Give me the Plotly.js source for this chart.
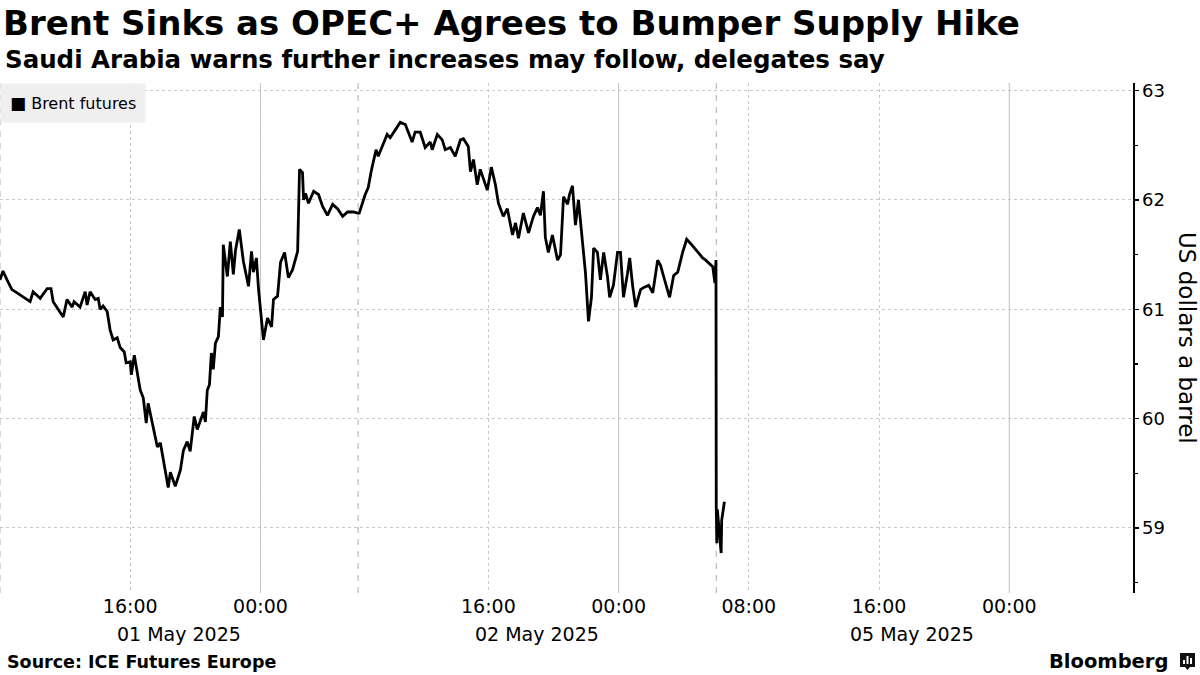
<!DOCTYPE html>
<html>
<head>
<meta charset="utf-8">
<script src="https://cdn.plot.ly/plotly-3.0.1.min.js"></script>
<style>html,body{margin:0;padding:0;background:#fff;}#chart{width:1200px;height:675px;}</style>
</head>
<body>
<div id="chart"></div>
<script>
// ---- Data (Brent futures) ----
const session1Times = ['2025-05-01 08:00','2025-05-01 08:11','2025-05-01 08:26','2025-05-01 08:44','2025-05-01 09:03','2025-05-01 09:25','2025-05-01 09:51','2025-05-01 10:02','2025-05-01 10:28','2025-05-01 10:54','2025-05-01 11:08','2025-05-01 11:16','2025-05-01 11:34','2025-05-01 11:53','2025-05-01 12:07','2025-05-01 12:26','2025-05-01 12:33','2025-05-01 12:55','2025-05-01 13:14','2025-05-01 13:21','2025-05-01 13:32','2025-05-01 13:51','2025-05-01 14:02','2025-05-01 14:09','2025-05-01 14:20','2025-05-01 14:35','2025-05-01 14:46','2025-05-01 14:57','2025-05-01 15:12','2025-05-01 15:23','2025-05-01 15:38','2025-05-01 15:45','2025-05-01 16:00','2025-05-01 16:04','2025-05-01 16:15','2025-05-01 16:37','2025-05-01 16:48','2025-05-01 16:59','2025-05-01 17:06','2025-05-01 17:21','2025-05-01 17:40','2025-05-01 17:51','2025-05-01 18:09','2025-05-01 18:20','2025-05-01 18:28','2025-05-01 18:46','2025-05-01 19:05','2025-05-01 19:16','2025-05-01 19:30','2025-05-01 19:41','2025-05-01 19:56','2025-05-01 20:07','2025-05-01 20:30','2025-05-01 20:37','2025-05-01 20:44','2025-05-01 20:52','2025-05-01 20:59','2025-05-01 21:06','2025-05-01 21:14','2025-05-01 21:25','2025-05-01 21:32','2025-05-01 21:40','2025-05-01 21:43','2025-05-01 21:58','2025-05-01 22:09','2025-05-01 22:20','2025-05-01 22:28','2025-05-01 22:42','2025-05-01 22:57','2025-05-01 23:16','2025-05-01 23:27','2025-05-01 23:34','2025-05-01 23:45','2025-05-01 23:53','2025-05-02 00:11','2025-05-02 00:26','2025-05-02 00:41','2025-05-02 00:48','2025-05-02 01:03','2025-05-02 01:14','2025-05-02 01:29','2025-05-02 01:43','2025-05-02 01:58','2025-05-02 02:17','2025-05-02 02:24','2025-05-02 02:35','2025-05-02 02:39','2025-05-02 02:46','2025-05-02 02:57','2025-05-02 03:16','2025-05-02 03:34','2025-05-02 03:49','2025-05-02 04:07','2025-05-02 04:26','2025-05-02 04:44','2025-05-02 05:03','2025-05-02 05:21','2025-05-02 05:43','2025-05-02 05:58'];
const session1Prices = [61.27,61.35,61.27,61.18,61.15,61.11,61.07,61.16,61.10,61.19,61.19,61.07,61.00,60.93,61.09,61.02,61.07,61.02,61.16,61.04,61.16,61.09,61.10,61.00,61.03,60.98,60.81,60.72,60.74,60.65,60.61,60.51,60.52,60.40,60.58,60.26,60.19,59.96,60.14,59.97,59.74,59.78,59.50,59.37,59.51,59.38,59.53,59.71,59.79,59.70,60.02,59.90,60.06,59.97,60.26,60.31,60.60,60.45,60.69,60.75,61.02,60.93,61.59,61.30,61.62,61.32,61.54,61.73,61.44,61.21,61.53,61.34,61.47,61.18,60.72,60.92,60.84,61.09,61.12,61.43,61.52,61.29,61.36,61.53,62.28,62.25,62.00,62.06,61.97,62.08,62.05,61.94,61.86,61.96,61.92,61.85,61.89,61.89,61.88];

const session2Times = ['2025-05-02 08:04','2025-05-02 08:26','2025-05-02 08:37','2025-05-02 08:48','2025-05-02 09:06','2025-05-02 09:14','2025-05-02 09:29','2025-05-02 09:47','2025-05-02 09:58','2025-05-02 10:17','2025-05-02 10:35','2025-05-02 10:54','2025-05-02 11:19','2025-05-02 11:30','2025-05-02 11:49','2025-05-02 12:07','2025-05-02 12:26','2025-05-02 12:33','2025-05-02 12:52','2025-05-02 13:10','2025-05-02 13:21','2025-05-02 13:40','2025-05-02 13:58','2025-05-02 14:17','2025-05-02 14:28','2025-05-02 14:46','2025-05-02 14:54','2025-05-02 15:05','2025-05-02 15:19','2025-05-02 15:30','2025-05-02 15:56','2025-05-02 16:11','2025-05-02 16:26','2025-05-02 16:37','2025-05-02 16:55','2025-05-02 17:10','2025-05-02 17:29','2025-05-02 17:40','2025-05-02 17:51','2025-05-02 18:09','2025-05-02 18:28','2025-05-02 18:46','2025-05-02 19:01','2025-05-02 19:12','2025-05-02 19:23','2025-05-02 19:30','2025-05-02 19:41','2025-05-02 19:56','2025-05-02 20:15','2025-05-02 20:26','2025-05-02 20:37','2025-05-02 20:52','2025-05-02 20:59','2025-05-02 21:10','2025-05-02 21:21','2025-05-02 21:32','2025-05-02 21:47','2025-05-02 21:58','2025-05-02 22:09','2025-05-02 22:20','2025-05-02 22:28','2025-05-02 22:42','2025-05-02 22:53','2025-05-02 23:05','2025-05-02 23:19','2025-05-02 23:27','2025-05-02 23:41','2025-05-02 23:56','2025-05-03 00:07','2025-05-03 00:18','2025-05-03 00:33','2025-05-03 00:41','2025-05-03 00:52','2025-05-03 01:03','2025-05-03 01:21','2025-05-03 01:33','2025-05-03 01:51','2025-05-03 02:06','2025-05-03 02:24','2025-05-03 02:35','2025-05-03 02:46','2025-05-03 03:08','2025-05-03 03:23','2025-05-03 03:38','2025-05-03 03:56','2025-05-03 04:11','2025-05-03 04:26','2025-05-03 04:52','2025-05-03 05:10','2025-05-03 05:21','2025-05-03 05:47','2025-05-03 05:55','2025-05-03 05:59'];
const session2Prices = [61.88,62.05,62.11,62.26,62.46,62.40,62.49,62.60,62.57,62.64,62.71,62.69,62.53,62.62,62.62,62.48,62.53,62.46,62.60,62.55,62.46,62.48,62.40,62.55,62.56,62.49,62.26,62.37,62.14,62.28,62.09,62.30,62.14,61.97,61.85,61.92,61.68,61.79,61.65,61.88,61.70,61.85,61.93,61.86,62.08,61.66,61.52,61.68,61.45,61.50,62.03,61.96,62.05,62.13,61.77,62.00,61.64,61.33,60.89,61.11,61.56,61.52,61.27,61.52,61.30,61.11,61.22,61.52,61.52,61.11,61.33,61.47,61.21,61.02,61.18,61.20,61.22,61.15,61.45,61.40,61.30,61.11,61.31,61.34,61.52,61.64,61.60,61.52,61.47,61.45,61.39,61.24,61.45];

const session3Times = ['2025-05-05 06:00','2025-05-05 06:02','2025-05-05 06:04','2025-05-05 06:11','2025-05-05 06:18','2025-05-05 06:20','2025-05-05 06:30'];
const session3Prices = [59.19,58.86,59.17,58.98,58.77,59.07,59.24];

const tickTimes = ['2025-05-01 16:00','2025-05-02 00:00','2025-05-02 16:00','2025-05-03 00:00','2025-05-05 08:00','2025-05-05 16:00','2025-05-06 00:00'];
const tickLabels = ['16:00','00:00','16:00','00:00','08:00','16:00','00:00'];
const midnightTimes = ['2025-05-02 00:00','2025-05-03 00:00','2025-05-06 00:00'];
const sessionStarts = ['2025-05-01 08:00','2025-05-02 08:00','2025-05-05 06:00'];
const sessionLabels = ['01 May 2025','02 May 2025','05 May 2025'];
const sessionLabelTimes = ['2025-05-01 19:00','2025-05-02 19:00','2025-05-05 18:00'];
const yTicks = [59,60,61,62,63];

// ---- Build ----
const times = session1Times.concat(session2Times, session3Times);
const prices = session1Prices.concat(session2Prices, session3Prices);

const H = 3600 * 1000;
const font = 'DejaVu Sans, sans-serif';

const shapes = [];
midnightTimes.forEach(t => shapes.push({type:'line', xref:'x', yref:'paper', x0:t, x1:t, y0:0, y1:1, line:{color:'#c4c4c4', width:1}, layer:'below'}));
sessionStarts.forEach(t => shapes.push({type:'line', xref:'x', yref:'paper', x0:t, x1:t, y0:0, y1:1, line:{color:'#b0b0b0', width:1, dash:'6px,6px'}, layer:'below'}));
// Bloomberg mark
shapes.push({type:'path', xref:'paper', yref:'paper', path:'M ' + (1180/1133) + ' ' + ((593-653)/510) + ' L ' + (1195/1133) + ' ' + ((593-653)/510) + ' L ' + (1195/1133) + ' ' + ((593-667)/510) + ' L ' + (1190/1133) + ' ' + ((593-667)/510) + ' L ' + (1187.5/1133) + ' ' + ((593-670)/510) + ' L ' + (1185/1133) + ' ' + ((593-667)/510) + ' L ' + (1180/1133) + ' ' + ((593-667)/510) + ' Z', fillcolor:'#111', line:{width:0}});
[[1183, 660], [1186.5, 656], [1190, 658]].forEach(p => shapes.push({type:'rect', xref:'paper', yref:'paper', x0:p[0]/1133, x1:(p[0]+2)/1133, y0:(593-664)/510, y1:(593-p[1])/510, fillcolor:'#fff', line:{width:0}}));

const annotations = [
  {text:'Saudi Arabia warns further increases may follow, delegates say', xref:'paper', yref:'paper', x:0, xanchor:'left', xshift:3, y:(593-60)/510, yanchor:'middle', showarrow:false, font:{family:font, size:24.5, color:'#000', weight:'bold'}},
  {text:'<span style="font-size:17px">■</span> Brent futures', xref:'paper', yref:'paper', x:0, xanchor:'left', y:1, yanchor:'top', showarrow:false, bgcolor:'#efefef', borderpad:9, font:{family:font, size:16, color:'#000'}},
  {text:'US dollars a barrel', xref:'paper', yref:'paper', x:1187/1133, xanchor:'center', y:0.5, yanchor:'middle', textangle:90, showarrow:false, font:{family:font, size:23, color:'#000'}},
  {text:'Source: ICE Futures Europe', xref:'paper', yref:'paper', x:0, xanchor:'left', xshift:5, y:(593-662)/510, yanchor:'middle', showarrow:false, font:{family:font, size:17.5, color:'#000', weight:'bold'}},
  {text:'Bloomberg', xref:'paper', yref:'paper', x:1170/1133, xanchor:'right', y:(593-661)/510, yanchor:'middle', showarrow:false, font:{family:font, size:19.5, color:'#000', weight:'bold'}}
];
sessionLabels.forEach((s, i) => annotations.push({text:s, xref:'x', yref:'paper', x:sessionLabelTimes[i], xanchor:'center', y:(593-634)/510, yanchor:'middle', showarrow:false, font:{family:font, size:19, color:'#000'}}));

const trace = {x: times, y: prices, type:'scatter', mode:'lines', line:{color:'#000', width:2.8}, hoverinfo:'x+y', showlegend:false};

const layout = {
  width:1200, height:675,
  margin:{l:0, r:67, t:83, b:82, pad:0},
  paper_bgcolor:'#fff', plot_bgcolor:'#fff',
  title:{text:'Brent Sinks as OPEC+ Agrees to Bumper Supply Hike', x:0, xref:'container', xanchor:'left', y:1-23/675, yref:'container', yanchor:'middle', pad:{l:3}, font:{family:font, size:34, color:'#000', weight:'bold'}},
  xaxis:{
    type:'date',
    range:['2025-05-01 08:00','2025-05-06 07:36'],
    rangebreaks:[
      {values:['2025-05-02 06:00'], dvalue:2*H},
      {values:['2025-05-03 06:00'], dvalue:48*H}
    ],
    tickmode:'array', tickvals:tickTimes, ticktext:tickLabels,
    showgrid:true, gridcolor:'#c8c8c8', griddash:'dot', gridwidth:1,
    ticks:'', showline:false, zeroline:false,
    tickfont:{family:font, size:19, color:'#000'},
    fixedrange:true
  },
  yaxis:{
    side:'right', range:[58.405, 63.07],
    tickmode:'array', tickvals:yTicks,
    showgrid:true, gridcolor:'#c8c8c8', griddash:'dot', gridwidth:1,
    showline:true, linecolor:'#000', linewidth:1.5,
    ticks:'outside', ticklen:4, tickcolor:'#000', tickwidth:1.5,
    minor:{dtick:0.5, tick0:0, ticks:'outside', ticklen:3, tickcolor:'#000', showgrid:false},
    tickfont:{family:font, size:18, color:'#000'},
    zeroline:false, automargin:false, fixedrange:true
  },
  shapes:shapes,
  annotations:annotations,
  showlegend:false
};

Plotly.newPlot('chart', [trace], layout, {displayModeBar:false, staticPlot:true});
</script>
</body>
</html>
